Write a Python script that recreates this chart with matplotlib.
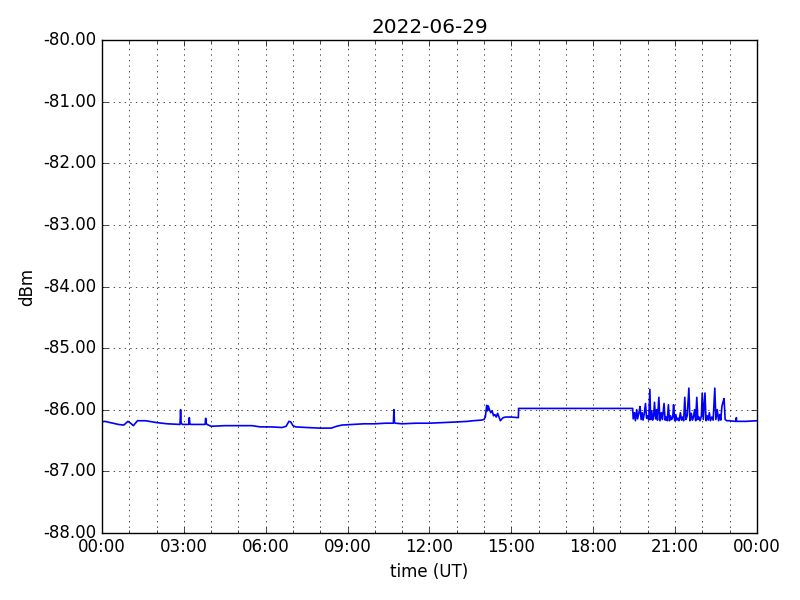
import datetime as dt
import matplotlib
matplotlib.use('Agg')
import matplotlib.pyplot as plt
import matplotlib.dates as mdates
from matplotlib.ticker import FormatStrFormatter

day = dt.datetime(2022, 6, 29)

# (hour UT, dBm), split by part of the day
night = [(0.0, -86.20), (0.1, -86.19), (0.3, -86.21), (0.6, -86.24),
         (0.8, -86.25), (0.95, -86.19), (1.05, -86.22), (1.15, -86.26),
         (1.3, -86.18), (1.6, -86.18), (2.0, -86.21), (2.4, -86.23),
         (2.86, -86.24), (2.88, -86.00), (2.9, -86.22), (2.95, -86.24),
         (3.18, -86.24), (3.2, -86.13), (3.22, -86.23), (3.25, -86.24),
         (3.78, -86.24), (3.8, -86.14), (3.82, -86.22), (3.85, -86.24),
         (4.0, -86.27), (4.5, -86.26), (5.0, -86.26), (5.5, -86.26),
         (5.8, -86.28), (6.2, -86.28), (6.6, -86.29), (6.75, -86.27),
         (6.85, -86.19), (6.92, -86.20), (7.0, -86.26), (7.1, -86.28),
         (7.5, -86.29), (8.0, -86.30), (8.4, -86.30), (8.6, -86.27),
         (8.8, -86.25)]
morning = [(9.2, -86.24), (9.6, -86.23), (10.0, -86.23), (10.4, -86.22),
           (10.68, -86.22), (10.7, -86.00), (10.72, -86.21), (10.75, -86.22),
           (11.0, -86.23), (11.5, -86.22), (12.0, -86.22), (12.5, -86.21),
           (13.0, -86.20), (13.4, -86.19), (13.6, -86.18), (13.9, -86.17),
           (14.0, -86.16), (14.05, -86.12), (14.1, -85.93), (14.13, -86.02),
           (14.16, -85.94), (14.2, -86.00), (14.25, -86.05), (14.3, -86.02),
           (14.35, -86.10), (14.4, -86.08), (14.45, -86.12), (14.5, -86.06),
           (14.55, -86.12), (14.6, -86.18), (14.7, -86.13), (14.8, -86.12),
           (15.0, -86.12), (15.26, -86.13)]
flat = [(15.27, -85.98), (16.0, -85.98), (17.0, -85.98), (18.0, -85.98),
        (19.0, -85.98), (19.45, -85.98)]
noisy = [(19.47, -86.15), (19.52, -86.05), (19.55, -86.18), (19.6, -86.00),
         (19.63, -86.15), (19.68, -86.05), (19.72, -85.95), (19.76, -86.16),
         (19.8, -86.05), (19.83, -86.17), (19.87, -86.08), (19.92, -85.90),
         (19.96, -86.14), (20.0, -86.10), (20.04, -86.17), (20.08, -85.67),
         (20.11, -86.16), (20.15, -86.02), (20.18, -86.17), (20.22, -86.10),
         (20.25, -85.88), (20.29, -86.15), (20.33, -86.00), (20.36, -86.17),
         (20.41, -85.80), (20.45, -86.18), (20.5, -86.05), (20.54, -86.16),
         (20.6, -85.90), (20.64, -86.17), (20.68, -86.12), (20.72, -86.18),
         (20.76, -85.92), (20.8, -86.18), (20.84, -86.10), (20.88, -86.16),
         (20.92, -86.12), (20.95, -85.92), (20.99, -86.18), (21.03, -86.08),
         (21.07, -86.17), (21.11, -86.14), (21.15, -86.18), (21.2, -86.05),
         (21.24, -86.17), (21.28, -86.12), (21.32, -86.18), (21.36, -85.80),
         (21.4, -86.16), (21.45, -86.10), (21.51, -85.65), (21.55, -86.18),
         (21.6, -86.06), (21.64, -86.17), (21.68, -86.12), (21.72, -86.00),
         (21.76, -86.18), (21.8, -85.80), (21.84, -86.16), (21.88, -86.12),
         (21.92, -86.18), (21.97, -86.10), (22.0, -85.73), (22.04, -86.16),
         (22.1, -85.73), (22.14, -86.18), (22.18, -86.10), (22.22, -86.17),
         (22.26, -86.05), (22.3, -86.18), (22.35, -86.12), (22.4, -86.17),
         (22.46, -85.65), (22.5, -86.16), (22.55, -86.00), (22.6, -86.18),
         (22.64, -86.08), (22.68, -86.17), (22.72, -85.95), (22.76, -85.88),
         (22.8, -85.82), (22.84, -86.16)]
late = [(22.9, -86.18), (23.0, -86.18), (23.2, -86.19), (23.24, -86.19),
        (23.25, -86.13), (23.26, -86.19), (23.6, -86.19), (24.0, -86.18)]

points = night + morning + flat + noisy + late
times = [day + dt.timedelta(hours=h) for h, v in points]
dbm = [v for h, v in points]

plt.style.use('classic')
fig = plt.figure(figsize=(8, 6), dpi=100, facecolor='white')
ax = fig.add_subplot(111)
fig.subplots_adjust(left=0.1275, right=0.946, top=0.933, bottom=0.112)

ax.plot(times, dbm, color='b', linewidth=1.2)

ax.set_xlim(day, day + dt.timedelta(days=1))
ax.set_ylim(-88, -80)
ax.yaxis.set_major_formatter(FormatStrFormatter('%.2f'))
ax.xaxis.set_major_locator(mdates.HourLocator(byhour=range(0, 24, 3)))
ax.xaxis.set_minor_locator(mdates.HourLocator())
ax.xaxis.set_major_formatter(mdates.DateFormatter('%H:%M'))
ax.grid(True, which='major')
ax.grid(True, which='minor', axis='x')

ax.set_title('2022-06-29')
ax.set_xlabel('time (UT)')
ax.set_ylabel('dBm')

fig.savefig('out.png', dpi=100, facecolor='white')
